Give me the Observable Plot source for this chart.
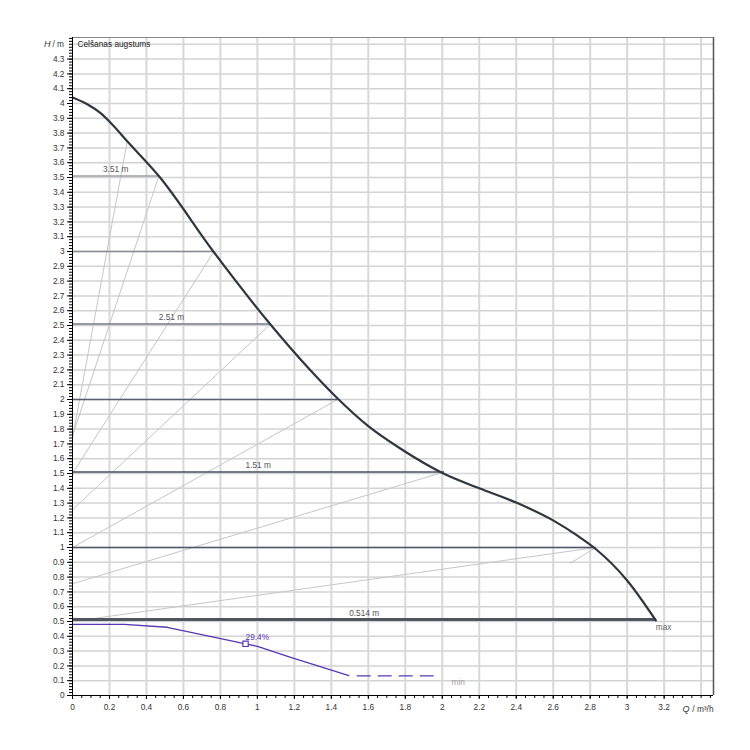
<!DOCTYPE html>
<html>
<head>
<meta charset="utf-8">
<script src="https://cdn.jsdelivr.net/npm/d3@7"></script>
<script src="https://cdn.jsdelivr.net/npm/@observablehq/plot@0.6"></script>
<style>
  html, body { margin: 0; padding: 0; background: #fff; }
  #chart svg { display: block; }
</style>
</head>
<body>
<div id="chart"></div>
<script>
// ---- data ----
// maximum pump curve (Q in m³/h, H in m)
const maxQ = [0, 0.08, 0.152, 0.206, 0.296, 0.467, 0.765, 1.071, 1.288, 1.434, 1.6, 1.775, 2.009, 2.2, 2.406, 2.604, 2.731, 2.83, 3.0, 3.155];
const maxH = [4.04, 3.995, 3.935, 3.87, 3.745, 3.51, 2.995, 2.507, 2.196, 2.007, 1.82, 1.667, 1.498, 1.40, 1.30, 1.18, 1.08, 0.99, 0.777, 0.507];

// set-point head lines and where they meet the max curve
const setH = [3.51, 3.0, 2.51, 2.0, 1.51, 1.0, 0.514];
const setQ = [0.467, 0.765, 1.071, 1.434, 2.009, 2.83, 3.155];
const setLabel = ["3.51 m", "", "2.51 m", "", "1.51 m", "", "0.514 m"];

// thin control lines (from point on curve to end point)
const ctrlQ1 = [0.296, 0.467, 0.765, 1.071, 1.434, 2.009, 2.83, 2.83];
const ctrlH1 = [3.745, 3.51, 3.0, 2.51, 2.0, 1.51, 1.0, 1.0];
const ctrlQ2 = [0, 0, 0, 0, 0, 0, 0, 2.69];
const ctrlH2 = [1.74, 1.755, 1.5, 1.255, 1.0, 0.755, 0.5, 0.892];

// minimum curve (purple) and its dashed continuation
const minQ = [0, 0.28, 0.512, 0.936, 1.005, 1.18, 1.495];
const minH = [0.48, 0.48, 0.461, 0.349, 0.331, 0.258, 0.135];
const minDashQ = [1.54, 1.96];
const minDashH = [0.133, 0.133];

// operating point
const opQ = [0.936];
const opH = [0.349];
const opLabel = ["29.4%"];

// texts
const titleText = "Celšanas augstums";
const maxText = "max";
const minText = "min";

// ticks
const xTickValues = [0, 0.2, 0.4, 0.6, 0.8, 1, 1.2, 1.4, 1.6, 1.8, 2, 2.2, 2.4, 2.6, 2.8, 3, 3.2];
const xGridValues = [0.2, 0.4, 0.6, 0.8, 1, 1.2, 1.4, 1.6, 1.8, 2, 2.2, 2.4, 2.6, 2.8, 3, 3.2, 3.4];
const yTickValues = d3.range(0, 44).map(i => i / 10);       // 0 … 4.3
const yGridValues = d3.range(1, 45).map(i => i / 10);       // 0.1 … 4.4
const xMinorValues = d3.range(0, 70).map(i => i * 0.05);     // every 0.05
const yMinorValues = d3.range(0, 223).map(i => i * 0.02);    // every 0.02

// ---- styling ----
const X_MAX = 3.467, Y_MAX = 4.446;
const setStroke = ["#9a9ea4", "#868c94", "#737a85", "#55606f", "#434f61", "#4b5667", "#50565e"];
const setWidth = [1.5, 1.5, 1.5, 1.5, 1.5, 1.5, 3];
const purple = "#5a36b4";
const fmt = d => String(+d.toFixed(2));

const maxIdx = d3.range(maxQ.length);
const setIdx = d3.range(setH.length);
const ctrlIdx = d3.range(ctrlQ1.length);
const minIdx = d3.range(minQ.length);

const chart = Plot.plot({
  width: 750,
  height: 750,
  marginLeft: 72,
  marginRight: 37,
  marginTop: 37,
  marginBottom: 55,
  x: {domain: [0, X_MAX]},
  y: {domain: [0, Y_MAX]},
  style: {fontFamily: "'Liberation Sans', Arial, sans-serif", fontSize: "8.3px", color: "#333", background: "#fff", overflow: "visible"},
  marks: [
    // grid
    Plot.ruleY(yGridValues, {stroke: "#d3d3d3", strokeWidth: 1.5}),
    Plot.ruleX(xGridValues, {stroke: "#d8d8d8", strokeWidth: 2}),
    // frame top/right
    Plot.ruleY([Y_MAX], {stroke: "#8a8a8a", strokeWidth: 1}),
    Plot.ruleX([X_MAX], {stroke: "#555", strokeWidth: 1.5}),
    // control lines
    Plot.link(ctrlIdx, {x1: i => ctrlQ1[i], y1: i => ctrlH1[i], x2: i => ctrlQ2[i], y2: i => ctrlH2[i], stroke: "#c6c6c6", strokeWidth: 1}),
    // set-point lines
    Plot.link(setIdx, {x1: () => 0, y1: i => setH[i], x2: i => setQ[i], y2: i => setH[i], stroke: i => setStroke[i], strokeWidth: i => setWidth[i]}),
    Plot.text(setIdx.filter(i => setLabel[i]), {x: i => setQ[i] / 2, y: i => setH[i], text: i => setLabel[i], dy: -6.5, fill: "#555"}),
    // max curve
    Plot.line(maxIdx, {x: i => maxQ[i], y: i => maxH[i], curve: "monotone-x", stroke: "#2e3640", strokeWidth: 2.2}),
    Plot.text([maxText], {x: () => setQ[setQ.length - 1], y: () => setH[setH.length - 1], dy: 7.5, textAnchor: "start", fill: "#666"}),
    // min curve
    Plot.line(minIdx, {x: i => minQ[i], y: i => minH[i], stroke: purple, strokeWidth: 1.3}),
    Plot.line([0, 1], {x: i => minDashQ[i], y: i => minDashH[i], stroke: purple, strokeWidth: 1.3, strokeDasharray: "13,8"}),
    Plot.text([minText], {x: () => 2.05, y: () => 0.09, textAnchor: "start", fill: "#a0a0a0"}),
    Plot.dot([0], {x: i => opQ[i], y: i => opH[i], symbol: "square", r: 3, stroke: purple, fill: "#fff", strokeWidth: 1.2}),
    Plot.text([0], {x: i => opQ[i], y: i => opH[i], text: i => opLabel[i], dy: -7, dx: 0, textAnchor: "start", fill: purple}),
    // title
    Plot.text([titleText], {x: () => 0, y: () => 4.4, dx: 5, textAnchor: "start", fill: "#222"}),
    // axis lines
    Plot.ruleX([0], {stroke: "#000", strokeWidth: 1}),
    Plot.ruleY([0], {stroke: "#000", strokeWidth: 1}),
    // axes
    Plot.axisY(yMinorValues, {tickSize: 3, fill: "none", label: null, stroke: "#000"}),
    Plot.axisY(yTickValues, {tickSize: 5, tickPadding: 3, tickFormat: fmt, label: null, stroke: "#000", fill: "#333"}),
    Plot.axisX(xMinorValues, {tickSize: 3, fill: "none", label: null, stroke: "#000"}),
    Plot.axisX(xTickValues, {tickSize: 4, tickPadding: 5, tickFormat: fmt, label: null, stroke: "#000", fill: "#333"}),
    // axis titles
    Plot.text(["H"], {x: () => 0, y: () => 4.4, dx: -22, textAnchor: "end", fontStyle: "italic", fill: "#333", fontSize: 9}),
    Plot.text([" / m"], {x: () => 0, y: () => 4.4, dx: -8.5, textAnchor: "end", fill: "#333"}),
    Plot.text(["Q"], {x: () => X_MAX, y: () => 0, dx: -24, dy: 13.5, textAnchor: "end", fontStyle: "italic", fill: "#333", fontSize: 9}),
    Plot.text([" / m³/h"], {x: () => X_MAX, y: () => 0, dx: 0, dy: 13.5, textAnchor: "end", fill: "#333"})
  ]
});

document.getElementById("chart").appendChild(chart);
</script>
</body>
</html>
